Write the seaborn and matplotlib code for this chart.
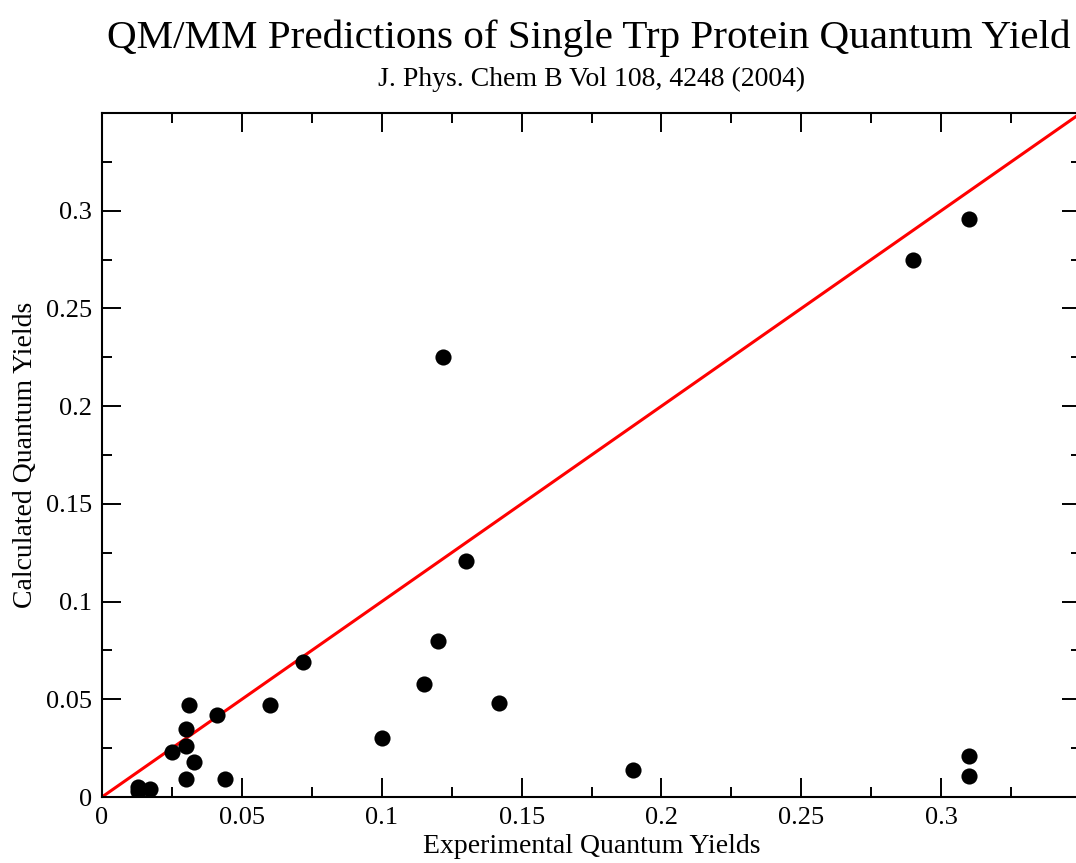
import matplotlib
matplotlib.use("Agg")
import matplotlib.pyplot as plt
import seaborn as sns
import pandas as pd
from matplotlib.ticker import MultipleLocator, FuncFormatter

experimental = [0.013, 0.013, 0.017, 0.025, 0.030, 0.030, 0.030, 0.031, 0.033, 0.041,
                0.044, 0.060, 0.072, 0.100, 0.115, 0.120, 0.122, 0.130, 0.142, 0.190,
                0.290, 0.310, 0.310, 0.310]
calculated = [0.005, 0.003, 0.004, 0.023, 0.035, 0.026, 0.009, 0.047, 0.018, 0.042,
              0.009, 0.047, 0.069, 0.030, 0.058, 0.080, 0.225, 0.121, 0.048, 0.014,
              0.275, 0.296, 0.021, 0.011]
line_x = [0.0, 0.35]
line_y = [0.0, 0.35]

title = "QM/MM Predictions of Single Trp Protein Quantum Yield"
subtitle = "J. Phys. Chem B Vol 108, 4248 (2004)"
xlabel = "Experimental Quantum Yields"
ylabel = "Calculated Quantum Yields"

sns.set_theme(style="ticks")
plt.rcParams['font.family'] = ['Liberation Serif', 'DejaVu Serif']
plt.rcParams['text.color'] = 'black'
plt.rcParams['axes.labelcolor'] = 'black'

df = pd.DataFrame({"x": experimental, "y": calculated})
ldf = pd.DataFrame({"x": line_x, "y": line_y})

fig = plt.figure(figsize=(10.76, 8.63), dpi=100)
ax = fig.add_axes([102/1076, 66/863, 979/1076, 684/863])

sns.lineplot(data=ldf, x="x", y="y", ax=ax, color="#ff0000", linewidth=2.2, zorder=2)
sns.scatterplot(data=df, x="x", y="y", ax=ax, color="black", s=135, edgecolor="black",
                linewidth=0, zorder=3)

ax.set_xlim(0, 0.35)
ax.set_ylim(0, 0.35)
ax.xaxis.set_major_locator(MultipleLocator(0.05))
ax.xaxis.set_minor_locator(MultipleLocator(0.025))
ax.yaxis.set_major_locator(MultipleLocator(0.05))
ax.yaxis.set_minor_locator(MultipleLocator(0.025))


def _fmt(v, p):
    if abs(v) < 1e-9:
        return "0"
    if v > 0.33:
        return ""
    return "%g" % round(v, 3)


fmt = FuncFormatter(_fmt)
ax.xaxis.set_major_formatter(fmt)
ax.yaxis.set_major_formatter(fmt)
ax.tick_params(which="both", direction="in", top=True, right=True, width=1.4,
               colors="black", labelsize=19)
ax.tick_params(which="major", length=13.5, pad=7)
ax.tick_params(which="minor", length=7)
for s in ax.spines.values():
    s.set_linewidth(1.5)
    s.set_color("black")
    s.set_visible(True)

ax.set_xlabel(xlabel, fontsize=20, labelpad=4, color="black")
ax.set_ylabel(ylabel, fontsize=20, labelpad=6, color="black")

cx = (102 + 1076) / 2 / 1076
fig.text(cx, 1 - 38/863, title, ha="center", va="center", fontsize=29.6, color="black")
fig.text((102 + 1081) / 2 / 1076, 1 - 79/863, subtitle, ha="center", va="center",
         fontsize=20, color="black")

fig.savefig("out.png", dpi=100)
